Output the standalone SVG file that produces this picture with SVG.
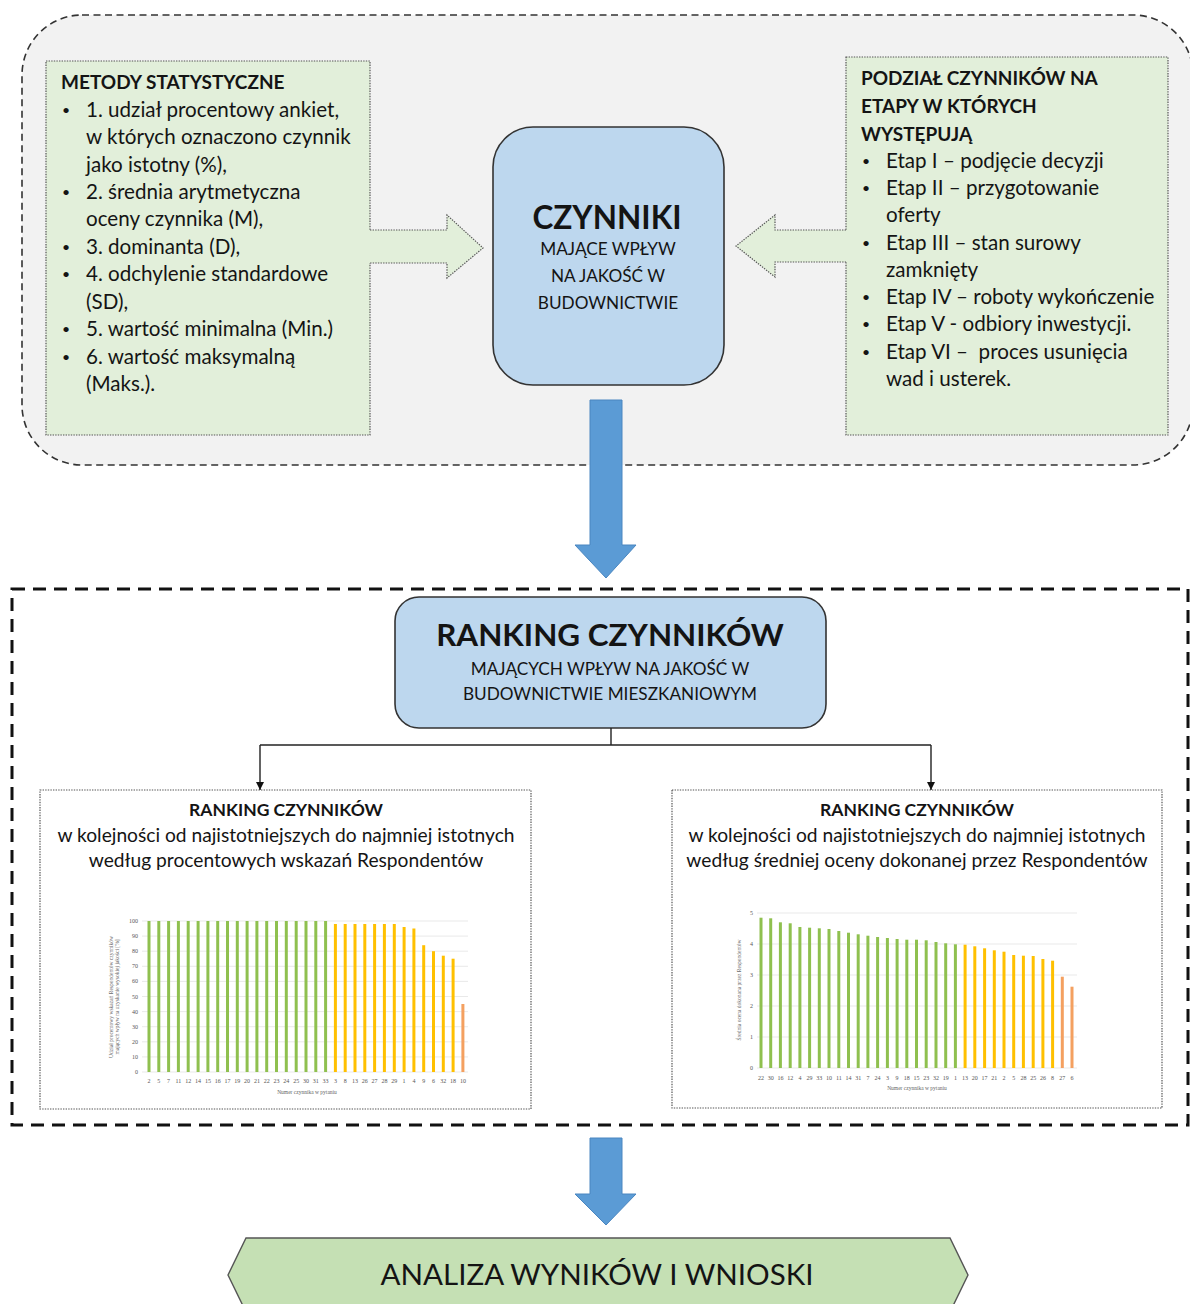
<svg xmlns="http://www.w3.org/2000/svg" width="1190" height="1304" viewBox="0 0 1190 1304">
  <defs>
    <style>
      text { font-family: Lato, "Liberation Sans", sans-serif; fill: #141414; }
      .frame-top { fill: #f2f2f2; stroke: #333; stroke-width: 1.6; stroke-dasharray: 7 4.5; }
      .frame-bottom { fill: none; stroke: #111; stroke-width: 3; stroke-dasharray: 13 8; }
      .green { fill: #e2efda; stroke: none; }
      .dotted { fill: none; stroke: #555; stroke-width: 1.2; stroke-dasharray: 1.4 1.2; }
      .blue-node { fill: #bdd7ee; stroke: #333; stroke-width: 1.6; }
      .blue-arrow { fill: #5b9bd5; stroke: #4a86c0; stroke-width: 1; }
      .body { font-size: 20.6px; }
      .head { font-size: 19px; font-weight: 700; }
      .bullet { font-size: 14px; }
      .sub { font-size: 17.2px; }
      .box-title { font-size: 17.5px; font-weight: 700; text-anchor: middle; }
      .box-text { font-size: 19.2px; text-anchor: middle; }
      .grid { stroke: #e3e3e3; stroke-width: 0.8; }
      .axr { font-family: "Liberation Serif", serif; font-size: 6px; fill: #555; text-anchor: end; }
      .axm { font-family: "Liberation Serif", serif; font-size: 6px; fill: #555; text-anchor: middle; }
      .axt { font-family: "Liberation Serif", serif; font-size: 5.5px; fill: #666; text-anchor: middle; }
      .g { fill: #8fc04f; }
      .y { fill: #ffc000; }
      .o { fill: #f4a060; }
      .conn { stroke: #222; stroke-width: 1.4; fill: none; }
    </style>
    <marker id="tip" viewBox="0 0 10 10" refX="10" refY="5" markerWidth="8" markerHeight="8" markerUnits="userSpaceOnUse" orient="auto">
      <path d="M0,0 L10,5 L0,10 Z" fill="#111"/>
    </marker>
  </defs>

  <rect width="1190" height="1304" fill="#ffffff"/>

  <!-- upper frame: factors and their sources -->
  <g id="frame-factors">
    <rect class="frame-top" x="22" y="15" width="1171" height="450" rx="60" ry="60"/>
  </g>

  <!-- statistical methods -->
  <g id="node-methods">
    <rect class="green" x="46" y="61" width="324" height="374"/>
    <rect class="dotted" x="46" y="61" width="324" height="374"/>
    <text class="head" x="61" y="89">METODY STATYSTYCZNE</text>
    <text class="bullet" x="62" y="115">•</text>
    <text class="body" x="86" y="117">1. udział procentowy ankiet,</text>
    <text class="body" x="86" y="144">w których oznaczono czynnik</text>
    <text class="body" x="86" y="172">jako istotny (%),</text>
    <text class="bullet" x="62" y="197">•</text>
    <text class="body" x="86" y="199">2. średnia arytmetyczna</text>
    <text class="body" x="86" y="226">oceny czynnika (M),</text>
    <text class="bullet" x="62" y="252">•</text>
    <text class="body" x="86" y="254">3. dominanta (D),</text>
    <text class="bullet" x="62" y="279">•</text>
    <text class="body" x="86" y="281">4. odchylenie standardowe</text>
    <text class="body" x="86" y="309">(SD),</text>
    <text class="bullet" x="62" y="334">•</text>
    <text class="body" x="86" y="336">5. wartość minimalna (Min.)</text>
    <text class="bullet" x="62" y="362">•</text>
    <text class="body" x="86" y="364">6. wartość maksymalną</text>
    <text class="body" x="86" y="391">(Maks.).</text>
  </g>

  <!-- division into stages -->
  <g id="node-stages">
    <rect class="green" x="846" y="57" width="322" height="378"/>
    <rect class="dotted" x="846" y="57" width="322" height="378"/>
    <text class="head" x="861" y="85">PODZIAŁ CZYNNIKÓW NA</text>
    <text class="head" x="861" y="113">ETAPY W KTÓRYCH</text>
    <text class="head" x="861" y="141">WYSTĘPUJĄ</text>
    <text class="bullet" x="862" y="166">•</text>
    <text class="body" x="886" y="168">Etap I – podjęcie decyzji</text>
    <text class="bullet" x="862" y="193">•</text>
    <text class="body" x="886" y="195">Etap II – przygotowanie</text>
    <text class="body" x="886" y="222">oferty</text>
    <text class="bullet" x="862" y="248">•</text>
    <text class="body" x="886" y="250">Etap III – stan surowy</text>
    <text class="body" x="886" y="277">zamknięty</text>
    <text class="bullet" x="862" y="302">•</text>
    <text class="body" x="886" y="304">Etap IV – roboty wykończenie</text>
    <text class="bullet" x="862" y="329">•</text>
    <text class="body" x="886" y="331">Etap V - odbiory inwestycji.</text>
    <text class="bullet" x="862" y="357">•</text>
    <text class="body" x="886" y="359" xml:space="preserve">Etap VI –  proces usunięcia</text>
    <text class="body" x="886" y="386">wad i usterek.</text>
  </g>

  <!-- central node -->
  <g id="node-factors">
    <rect class="blue-node" x="493" y="127" width="231" height="258" rx="40" ry="40"/>
    <text x="607" y="229" font-size="31.5" font-weight="700" text-anchor="middle">CZYNNIKI</text>
    <text class="sub" x="608" y="255" text-anchor="middle">MAJĄCE WPŁYW</text>
    <text class="sub" x="608" y="282" text-anchor="middle">NA JAKOŚĆ W</text>
    <text class="sub" x="608" y="309" text-anchor="middle">BUDOWNICTWIE</text>
  </g>

  <!-- lower frame: rankings -->
  <g id="frame-ranking">
    <rect class="frame-bottom" x="12" y="589" width="1176" height="536"/>
  </g>

  <g id="node-ranking">
    <rect class="blue-node" x="395" y="597" width="431" height="131" rx="24" ry="24"/>
    <text x="610" y="646" font-size="31.4" font-weight="700" text-anchor="middle">RANKING CZYNNIKÓW</text>
    <text class="sub" x="610" y="675" text-anchor="middle">MAJĄCYCH WPŁYW NA JAKOŚĆ W</text>
    <text class="sub" x="610" y="700" text-anchor="middle">BUDOWNICTWIE MIESZKANIOWYM</text>
  </g>

  <!-- ranking by percentage of indications -->
  <g id="node-ranking-percent">
    <rect x="40" y="790" width="491" height="319" fill="#ffffff"/>
    <rect class="dotted" x="40" y="790" width="491" height="319"/>
    <text class="box-title" x="286" y="816">RANKING CZYNNIKÓW</text>
    <text class="box-text" x="286" y="842">w kolejności od najistotniejszych do najmniej istotnych</text>
    <text class="box-text" x="286" y="867">według procentowych wskazań Respondentów</text>

    <g id="chart-percent">
      <line class="grid" x1="142" y1="1072" x2="468" y2="1072"/>
      <line class="grid" x1="142" y1="1056.9" x2="468" y2="1056.9"/>
      <line class="grid" x1="142" y1="1041.8" x2="468" y2="1041.8"/>
      <line class="grid" x1="142" y1="1026.7" x2="468" y2="1026.7"/>
      <line class="grid" x1="142" y1="1011.6" x2="468" y2="1011.6"/>
      <line class="grid" x1="142" y1="996.5" x2="468" y2="996.5"/>
      <line class="grid" x1="142" y1="981.4" x2="468" y2="981.4"/>
      <line class="grid" x1="142" y1="966.3" x2="468" y2="966.3"/>
      <line class="grid" x1="142" y1="951.2" x2="468" y2="951.2"/>
      <line class="grid" x1="142" y1="936.1" x2="468" y2="936.1"/>
      <line class="grid" x1="142" y1="921" x2="468" y2="921"/>
      <text class="axr" x="138" y="1074">0</text>
      <text class="axr" x="138" y="1059">10</text>
      <text class="axr" x="138" y="1044">20</text>
      <text class="axr" x="138" y="1029">30</text>
      <text class="axr" x="138" y="1014">40</text>
      <text class="axr" x="138" y="999">50</text>
      <text class="axr" x="138" y="983">60</text>
      <text class="axr" x="138" y="968">70</text>
      <text class="axr" x="138" y="953">80</text>
      <text class="axr" x="138" y="938">90</text>
      <text class="axr" x="138" y="923">100</text>
      <g>
        <rect class="g" x="147.5" y="921" width="3" height="151"/>
        <rect class="g" x="157.3" y="921" width="3" height="151"/>
        <rect class="g" x="167.1" y="921" width="3" height="151"/>
        <rect class="g" x="176.9" y="921" width="3" height="151"/>
        <rect class="g" x="186.7" y="921" width="3" height="151"/>
        <rect class="g" x="196.6" y="921" width="3" height="151"/>
        <rect class="g" x="206.4" y="921" width="3" height="151"/>
        <rect class="g" x="216.2" y="921" width="3" height="151"/>
        <rect class="g" x="226" y="921" width="3" height="151"/>
        <rect class="g" x="235.8" y="921" width="3" height="151"/>
        <rect class="g" x="245.6" y="921" width="3" height="151"/>
        <rect class="g" x="255.4" y="921" width="3" height="151"/>
        <rect class="g" x="265.2" y="921" width="3" height="151"/>
        <rect class="g" x="275" y="921" width="3" height="151"/>
        <rect class="g" x="284.8" y="921" width="3" height="151"/>
        <rect class="g" x="294.7" y="921" width="3" height="151"/>
        <rect class="g" x="304.5" y="921" width="3" height="151"/>
        <rect class="g" x="314.3" y="921" width="3" height="151"/>
        <rect class="g" x="324.1" y="921" width="3" height="151"/>
        <rect class="y" x="333.9" y="924" width="3" height="148"/>
        <rect class="y" x="343.7" y="924" width="3" height="148"/>
        <rect class="y" x="353.5" y="924" width="3" height="148"/>
        <rect class="y" x="363.3" y="924" width="3" height="148"/>
        <rect class="y" x="373.1" y="924" width="3" height="148"/>
        <rect class="y" x="382.9" y="924" width="3" height="148"/>
        <rect class="y" x="392.8" y="924" width="3" height="148"/>
        <rect class="y" x="402.6" y="927" width="3" height="145"/>
        <rect class="y" x="412.4" y="928.5" width="3" height="143.5"/>
        <rect class="y" x="422.2" y="945.2" width="3" height="126.8"/>
        <rect class="y" x="432" y="951.2" width="3" height="120.8"/>
        <rect class="y" x="441.8" y="955.7" width="3" height="116.3"/>
        <rect class="y" x="451.6" y="958.7" width="3" height="113.3"/>
        <rect class="o" x="461.4" y="1004" width="3" height="68"/>
      </g>
      <g>
        <text class="axm" x="149" y="1083">2</text>
        <text class="axm" x="158.8" y="1083">5</text>
        <text class="axm" x="168.6" y="1083">7</text>
        <text class="axm" x="178.4" y="1083">11</text>
        <text class="axm" x="188.2" y="1083">12</text>
        <text class="axm" x="198.1" y="1083">14</text>
        <text class="axm" x="207.9" y="1083">15</text>
        <text class="axm" x="217.7" y="1083">16</text>
        <text class="axm" x="227.5" y="1083">17</text>
        <text class="axm" x="237.3" y="1083">19</text>
        <text class="axm" x="247.1" y="1083">20</text>
        <text class="axm" x="256.9" y="1083">21</text>
        <text class="axm" x="266.7" y="1083">22</text>
        <text class="axm" x="276.5" y="1083">23</text>
        <text class="axm" x="286.3" y="1083">24</text>
        <text class="axm" x="296.2" y="1083">25</text>
        <text class="axm" x="306" y="1083">30</text>
        <text class="axm" x="315.8" y="1083">31</text>
        <text class="axm" x="325.6" y="1083">33</text>
        <text class="axm" x="335.4" y="1083">3</text>
        <text class="axm" x="345.2" y="1083">8</text>
        <text class="axm" x="355" y="1083">13</text>
        <text class="axm" x="364.8" y="1083">26</text>
        <text class="axm" x="374.6" y="1083">27</text>
        <text class="axm" x="384.4" y="1083">28</text>
        <text class="axm" x="394.3" y="1083">29</text>
        <text class="axm" x="404.1" y="1083">1</text>
        <text class="axm" x="413.9" y="1083">4</text>
        <text class="axm" x="423.7" y="1083">9</text>
        <text class="axm" x="433.5" y="1083">6</text>
        <text class="axm" x="443.3" y="1083">32</text>
        <text class="axm" x="453.1" y="1083">18</text>
        <text class="axm" x="462.9" y="1083">10</text>
      </g>
      <text class="axt" x="307" y="1094">Numer czynnika w pytaniu</text>
      <text class="axt" transform="translate(113 997) rotate(-90)">Udział procentowy wskazań Respondentów czynników</text>
      <text class="axt" transform="translate(119 997) rotate(-90)">mających wpływ na uzyskanie wysokiej jakości [%]</text>
    </g>
  </g>

  <!-- ranking by mean rating -->
  <g id="node-ranking-mean">
    <rect x="672" y="790" width="490" height="318" fill="#ffffff"/>
    <rect class="dotted" x="672" y="790" width="490" height="318"/>
    <text class="box-title" x="917" y="816">RANKING CZYNNIKÓW</text>
    <text class="box-text" x="917" y="842">w kolejności od najistotniejszych do najmniej istotnych</text>
    <text class="box-text" x="917" y="867">według średniej oceny dokonanej przez Respondentów</text>

    <g id="chart-mean">
      <line class="grid" x1="757" y1="1068" x2="1077" y2="1068"/>
      <line class="grid" x1="757" y1="1037" x2="1077" y2="1037"/>
      <line class="grid" x1="757" y1="1006" x2="1077" y2="1006"/>
      <line class="grid" x1="757" y1="975" x2="1077" y2="975"/>
      <line class="grid" x1="757" y1="944" x2="1077" y2="944"/>
      <line class="grid" x1="757" y1="913" x2="1077" y2="913"/>
      <text class="axr" x="753" y="1070">0</text>
      <text class="axr" x="753" y="1039">1</text>
      <text class="axr" x="753" y="1008">2</text>
      <text class="axr" x="753" y="977">3</text>
      <text class="axr" x="753" y="946">4</text>
      <text class="axr" x="753" y="915">5</text>
      <g>
        <rect class="g" x="759.5" y="917.7" width="3" height="150.3"/>
        <rect class="g" x="769.2" y="918.3" width="3" height="149.7"/>
        <rect class="g" x="778.9" y="922.3" width="3" height="145.7"/>
        <rect class="g" x="788.7" y="923.3" width="3" height="144.7"/>
        <rect class="g" x="798.4" y="927" width="3" height="141"/>
        <rect class="g" x="808.1" y="927.7" width="3" height="140.3"/>
        <rect class="g" x="817.8" y="928.3" width="3" height="139.7"/>
        <rect class="g" x="827.5" y="929" width="3" height="139"/>
        <rect class="g" x="837.3" y="931" width="3" height="137"/>
        <rect class="g" x="847" y="932.7" width="3" height="135.3"/>
        <rect class="g" x="856.7" y="934.3" width="3" height="133.7"/>
        <rect class="g" x="866.4" y="935.7" width="3" height="132.3"/>
        <rect class="g" x="876.1" y="937" width="3" height="131"/>
        <rect class="g" x="885.9" y="938" width="3" height="130"/>
        <rect class="g" x="895.6" y="939" width="3" height="129"/>
        <rect class="g" x="905.3" y="939.7" width="3" height="128.3"/>
        <rect class="g" x="915" y="939.7" width="3" height="128.3"/>
        <rect class="g" x="924.7" y="940.3" width="3" height="127.7"/>
        <rect class="g" x="934.5" y="942" width="3" height="126"/>
        <rect class="g" x="944.2" y="943.3" width="3" height="124.7"/>
        <rect class="g" x="953.9" y="944.3" width="3" height="123.7"/>
        <rect class="y" x="963.6" y="944.7" width="3" height="123.3"/>
        <rect class="y" x="973.3" y="946.3" width="3" height="121.7"/>
        <rect class="y" x="983.1" y="948.3" width="3" height="119.7"/>
        <rect class="y" x="992.8" y="950.3" width="3" height="117.7"/>
        <rect class="y" x="1002.5" y="951.7" width="3" height="116.3"/>
        <rect class="y" x="1012.2" y="955" width="3" height="113"/>
        <rect class="y" x="1021.9" y="955.7" width="3" height="112.3"/>
        <rect class="y" x="1031.7" y="956" width="3" height="112"/>
        <rect class="y" x="1041.4" y="959" width="3" height="109"/>
        <rect class="y" x="1051.1" y="960.7" width="3" height="107.3"/>
        <rect class="o" x="1060.8" y="976.7" width="3" height="91.3"/>
        <rect class="o" x="1070.5" y="986.7" width="3" height="81.3"/>
      </g>
      <g>
        <text class="axm" x="761" y="1080">22</text>
        <text class="axm" x="770.7" y="1080">30</text>
        <text class="axm" x="780.4" y="1080">16</text>
        <text class="axm" x="790.2" y="1080">12</text>
        <text class="axm" x="799.9" y="1080">4</text>
        <text class="axm" x="809.6" y="1080">29</text>
        <text class="axm" x="819.3" y="1080">33</text>
        <text class="axm" x="829" y="1080">10</text>
        <text class="axm" x="838.8" y="1080">11</text>
        <text class="axm" x="848.5" y="1080">14</text>
        <text class="axm" x="858.2" y="1080">31</text>
        <text class="axm" x="867.9" y="1080">7</text>
        <text class="axm" x="877.6" y="1080">24</text>
        <text class="axm" x="887.4" y="1080">3</text>
        <text class="axm" x="897.1" y="1080">9</text>
        <text class="axm" x="906.8" y="1080">18</text>
        <text class="axm" x="916.5" y="1080">15</text>
        <text class="axm" x="926.2" y="1080">23</text>
        <text class="axm" x="936" y="1080">32</text>
        <text class="axm" x="945.7" y="1080">19</text>
        <text class="axm" x="955.4" y="1080">1</text>
        <text class="axm" x="965.1" y="1080">13</text>
        <text class="axm" x="974.8" y="1080">20</text>
        <text class="axm" x="984.6" y="1080">17</text>
        <text class="axm" x="994.3" y="1080">21</text>
        <text class="axm" x="1004" y="1080">2</text>
        <text class="axm" x="1013.7" y="1080">5</text>
        <text class="axm" x="1023.4" y="1080">28</text>
        <text class="axm" x="1033.2" y="1080">25</text>
        <text class="axm" x="1042.9" y="1080">26</text>
        <text class="axm" x="1052.6" y="1080">8</text>
        <text class="axm" x="1062.3" y="1080">27</text>
        <text class="axm" x="1072" y="1080">6</text>
      </g>
      <text class="axt" x="917" y="1090">Numer czynnika w pytaniu</text>
      <text class="axt" transform="translate(741 990) rotate(-90)">Średnia ocena dokonana przez Respondentów</text>
    </g>
  </g>

  <!-- results node -->
  <g id="node-results">
    <polygon points="228,1275 246,1238 950,1238 968,1275 950,1312 246,1312" fill="#c5e0b4" stroke="#555" stroke-width="1.4"/>
    <text x="597" y="1285" font-size="29.5" text-anchor="middle">ANALIZA WYNIKÓW I WNIOSKI</text>
  </g>

  <!-- connectors -->
  <g id="connectors">
    <!-- block arrows into the central node -->
    <polygon class="green" points="369,230 447,230 447,215 483,248 447,278 447,263 369,263"/>
    <polyline class="dotted" points="370,230 447,230 447,215 483,248 447,278 447,263 370,263"/>
    <polygon class="green" points="847,230 775,230 775,215 736,246 775,277 775,262 847,262"/>
    <polyline class="dotted" points="846,230 775,230 775,215 736,246 775,277 775,262 846,262"/>
    <!-- main flow -->
    <polygon class="blue-arrow" points="590,400 622,400 622,545 636,545 606,578 575,545 590,545"/>
    <polygon class="blue-arrow" points="590,1138 622,1138 622,1194 636,1194 606,1225 575,1194 590,1194"/>
    <!-- split into both rankings -->
    <polyline class="conn" points="611,728 611,745"/>
    <polyline class="conn" points="260,745 931,745"/>
    <line class="conn" x1="260" y1="745" x2="260" y2="790" marker-end="url(#tip)"/>
    <line class="conn" x1="931" y1="745" x2="931" y2="790" marker-end="url(#tip)"/>
  </g>
</svg>
